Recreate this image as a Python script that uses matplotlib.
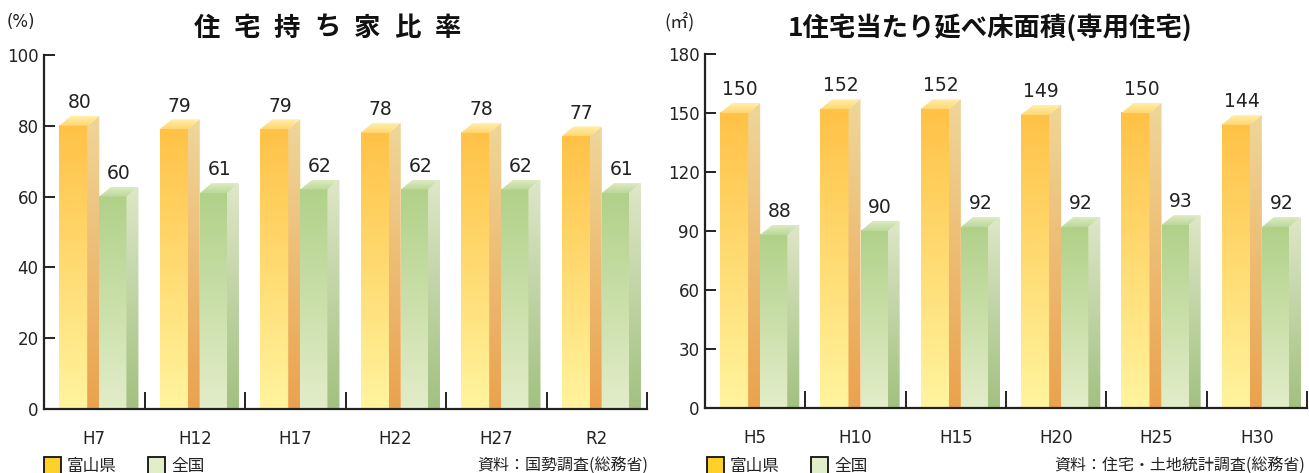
import numpy as np
import matplotlib
matplotlib.use('Agg')
import matplotlib.pyplot as plt
from matplotlib.patches import Polygon, Rectangle
from matplotlib.colors import to_rgb

plt.rcParams['font.family'] = ['DejaVu Sans', 'Noto Sans CJK JP']
JP = ['Noto Sans CJK JP', 'DejaVu Sans']

# --- data ---
own_years = ['H7', 'H12', 'H17', 'H22', 'H27', 'R2']
own_toyama = [80, 79, 79, 78, 78, 77]
own_japan = [60, 61, 62, 62, 62, 61]
own_yticks = [0, 20, 40, 60, 80, 100]

area_years = ['H5', 'H10', 'H15', 'H20', 'H25', 'H30']
area_toyama = [150, 152, 152, 149, 150, 144]
area_japan = [88, 90, 92, 92, 93, 92]
area_yticks = [0, 30, 60, 90, 120, 150, 180]

legend_names = ['富山県', '全国']

# face colours (top of gradient, bottom of gradient)
TOYAMA = {'front': ('#FFC247', '#FFF49E'),
          'side': ('#EFD699', '#EBA24E'),
          'top': ('#FFF0A6', '#FFD673')}
JAPAN = {'front': ('#B1D189', '#E2EDC9'),
         'side': ('#DEE6C8', '#A2C180'),
         'top': ('#DCEBC0', '#BCD89A')}

W, H = 1309, 473
fig = plt.figure(figsize=(W / 100, H / 100), dpi=100)


def fx(x):
    return x / W


def fy(y):
    return 1 - y / H


def grad(cols, n=64):
    a, b = np.array(to_rgb(cols[0])), np.array(to_rgb(cols[1]))
    t = np.linspace(0, 1, n)[:, None]
    return (a * (1 - t) + b * t)[:, None, :]


def draw_panel(rect, years, toyama, japan, yticks):
    left, top, right, bottom = rect
    ax = fig.add_axes([fx(left), fy(bottom), fx(right - left), (bottom - top) / H])
    ymax = yticks[-1]
    dy = 10 * ymax / (bottom - top)
    dx = 0.12
    xs = np.arange(len(years))
    for vals, off, w, cols in [(toyama, 0.15, 0.28, TOYAMA), (japan, 0.55, 0.27, JAPAN)]:
        bars = ax.bar(xs + off, vals, w, align='edge', color='none', linewidth=0)
        for b, v in zip(bars, vals):
            x0 = b.get_x()
            x1 = x0 + b.get_width()
            h = b.get_height()
            ax.imshow(grad(cols['front']), extent=[x0, x1, 0, h], aspect='auto',
                      interpolation='bilinear', zorder=2)
            side = Polygon([(x1, 0), (x1 + dx, 0), (x1 + dx, h + dy), (x1, h)],
                           closed=True, facecolor='none', edgecolor='none')
            ax.add_patch(side)
            im = ax.imshow(grad(cols['side']), extent=[x1, x1 + dx, 0, h + dy],
                           aspect='auto', interpolation='bilinear', zorder=2)
            im.set_clip_path(side)
            topf = Polygon([(x0, h), (x1, h), (x1 + dx, h + dy), (x0 + dx, h + dy)],
                           closed=True, facecolor='none', edgecolor='none')
            ax.add_patch(topf)
            im = ax.imshow(grad(cols['top']), extent=[x0, x1 + dx, h, h + dy],
                           aspect='auto', interpolation='bilinear', zorder=2)
            im.set_clip_path(topf)
            ax.annotate(f'{v}', xy=((x0 + x1 + dx) / 2, h + dy), xytext=(0, 5.5),
                        textcoords='offset points', ha='center', va='baseline',
                        fontsize=13.5, color='#222222')
    ax.set_xlim(0, len(years))
    ax.set_ylim(0, ymax)
    for s in ['top', 'right']:
        ax.spines[s].set_visible(False)
    for s in ['left', 'bottom']:
        ax.spines[s].set_linewidth(1.6)
        ax.spines[s].set_color('#222222')
        ax.spines[s].set_zorder(5)
    ax.set_yticks(yticks)
    ax.tick_params(axis='y', direction='in', length=8, width=1.4, pad=4,
                   labelsize=12, colors='#222222')
    ax.set_xticks(xs + 0.5)
    ax.set_xticklabels(years)
    ax.tick_params(axis='x', which='major', length=0, pad=15, labelsize=12,
                   colors='#222222')
    ax.set_xticks(np.arange(1, len(years) + 1), minor=True)
    ax.tick_params(axis='x', which='minor', direction='in', length=12.5, width=1.4,
                   color='#222222')
    ax.patch.set_alpha(0)
    return ax


draw_panel((44, 55, 647, 409), own_years, own_toyama, own_japan, own_yticks)
draw_panel((705, 54, 1307, 408), area_years, area_toyama, area_japan, area_yticks)

# titles
title1 = '住宅持ち家比率'
for i, ch in enumerate(title1):
    fig.text(fx(207 + i * 40), fy(28), ch, ha='center', va='center', family=JP,
             fontsize=19, fontweight='bold', color='#111111')
fig.text(fx(990), fy(28), '1住宅当たり延べ床面積(専用住宅)', ha='center', va='center',
         family=JP, fontsize=19, fontweight='bold', color='#111111')

fig.text(fx(21), fy(22), '(%)', ha='center', va='center', fontsize=12, color='#222222')
fig.text(fx(680), fy(22), '(㎡)', ha='center', va='center', family=JP, fontsize=13,
         color='#222222')

# legends and sources
legend_cols = ['#FFCF2A', '#E2EDC9']
for base, sx, src in [(44, 648, '資料：国勢調査(総務省)'),
                      (707, 1305, '資料：住宅・土地統計調査(総務省)')]:
    for k, (name, col) in enumerate(zip(legend_names, legend_cols)):
        x = base + k * 104
        fig.patches.append(Rectangle((fx(x), fy(475)), fx(17), (475 - 457) / H,
                                     transform=fig.transFigure, facecolor=col,
                                     edgecolor='#111111', linewidth=1.3))
        fig.text(fx(x + 23), fy(466), name, ha='left', va='center', family=JP,
                 fontsize=12, color='#222222')
    fig.text(fx(sx), fy(466), src, ha='right', va='center', family=JP, fontsize=11.5,
             color='#222222')

fig.savefig('out.png', dpi=100)
